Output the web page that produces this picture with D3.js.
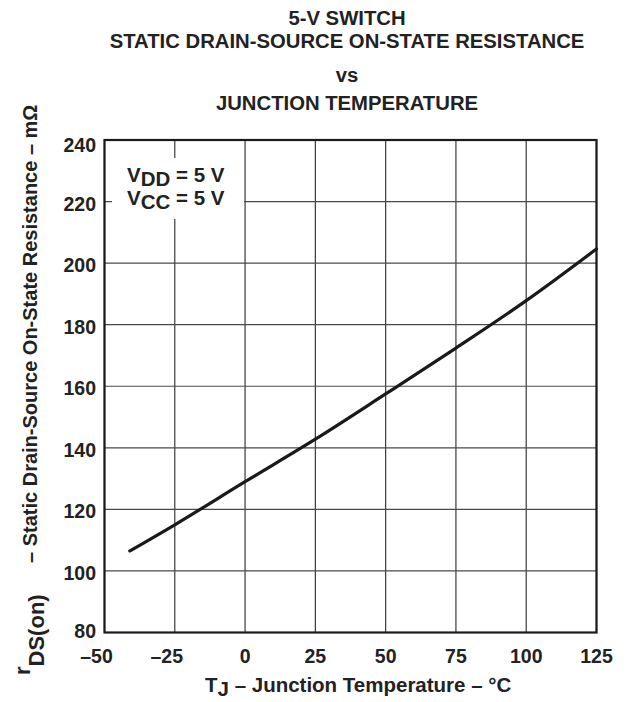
<!DOCTYPE html>
<html>
<head>
<meta charset="UTF-8">
<title>5-V Switch rDS(on) vs Junction Temperature</title>
<script src="https://cdn.jsdelivr.net/npm/d3@7"></script>
<style>
* { margin: 0; padding: 0; }
body { background: #fff; }
#chart { display: block; }
text { font-family: "Liberation Sans", Arial, sans-serif; font-weight: bold; fill: #222; }
</style>
</head>
<body>
<svg id="chart" width="632" height="702"></svg>
<script>
// values
const temps = [-41, -25, 0, 25, 50, 75, 100, 125];
const rdson = [106.5, 115, 129, 142.8, 157.5, 172.4, 187.8, 204.6];

const xTicks = [-50, -25, 0, 25, 50, 75, 100, 125];
const yTicks = [80, 100, 120, 140, 160, 180, 200, 220, 240];

const titleLines = ["5-V SWITCH", "STATIC DRAIN-SOURCE ON-STATE RESISTANCE", "vs", "JUNCTION TEMPERATURE"];

(function() {
    const svg = d3.select("#chart");
    const left = 104.5, right = 596.5, top = 140, bottom = 632.5;

    const x = d3.scaleLinear().domain([-50, 125]).range([left, right]);
    const y = d3.scaleLinear().domain([80, 240]).range([bottom, top]);

    // title
    const titleY = [25, 48, 82, 110];
    svg.selectAll(".title")
        .data(titleLines)
        .enter()
        .append("text")
        .attr("class", "title")
        .attr("x", 347)
        .attr("y", (d, i) => titleY[i])
        .attr("text-anchor", "middle")
        .style("font-size", "20.3px")
        .text(d => d);

    // grid
    const grid = svg.append("g");
    grid.selectAll(".vgrid")
        .data(xTicks)
        .enter()
        .append("line")
        .attr("x1", d => x(d)).attr("x2", d => x(d))
        .attr("y1", top).attr("y2", bottom)
        .style("stroke", "#3a3a3a")
        .style("stroke-width", "1.2px");
    grid.selectAll(".hgrid")
        .data(yTicks)
        .enter()
        .append("line")
        .attr("x1", left).attr("x2", right)
        .attr("y1", d => y(d)).attr("y2", d => y(d))
        .style("stroke", "#4a4a4a")
        .style("stroke-width", "1.2px");

    // legend box hides grid behind it
    svg.append("rect")
        .attr("x", 112).attr("y", 158)
        .attr("width", 132).attr("height", 61)
        .style("fill", "#fff");

    const legend = [["DD", 182], ["CC", 205]];
    legend.forEach(function(l) {
        const t = svg.append("text")
            .attr("x", 127).attr("y", l[1])
            .style("font-size", "20.5px");
        t.append("tspan").text("V");
        t.append("tspan").attr("dy", 3.5).text(l[0]);
        t.append("tspan").attr("dy", -3.5).text(" = 5 V");
    });

    // frame
    svg.append("rect")
        .attr("x", left).attr("y", top)
        .attr("width", right - left).attr("height", bottom - top)
        .style("fill", "none")
        .style("stroke", "#1a1a1a")
        .style("stroke-width", "2.2px");

    // axes labels
    svg.selectAll(".xlab")
        .data(xTicks)
        .enter()
        .append("text")
        .attr("x", d => x(d))
        .attr("dx", d => d < 0 ? -8 : 0)
        .attr("y", 663)
        .attr("text-anchor", "middle")
        .style("font-size", "19.5px")
        .text(d => d < 0 ? "\u2013" + Math.abs(d) : d);

    svg.selectAll(".ylab")
        .data(yTicks)
        .enter()
        .append("text")
        .attr("x", 96)
        .attr("y", d => y(d) + (d === 80 ? 5.5 : (d === 240 ? 11.5 : 9)))
        .attr("text-anchor", "end")
        .style("font-size", "19.5px")
        .text(d => d);

    // x axis title
    const xt = svg.append("text")
        .attr("x", 205).attr("y", 692)
        .style("font-size", "20.5px");
    xt.append("tspan").text("T");
    xt.append("tspan").attr("dy", 4).text("J");
    xt.append("tspan").attr("dy", -4).text(" \u2013 Junction Temperature \u2013 \u00b0C");

    // y axis title
    const yt = svg.append("text")
        .attr("transform", "translate(37,675) rotate(-90)")
        .style("font-size", "20px");
    yt.append("tspan").attr("dy", -7).style("font-size", "22px").text("r");
    yt.append("tspan").attr("dy", 14).style("font-size", "22px").text("DS(on)");
    yt.append("tspan").attr("x", 112).attr("dy", -7).text("\u2013 Static Drain-Source On-State Resistance \u2013 m\u03a9");

    // curve
    const pts = temps.map((t, i) => [t, rdson[i]]);
    const line = d3.line()
        .x(d => x(d[0]))
        .y(d => y(d[1]))
        .curve(d3.curveMonotoneX);
    svg.append("path")
        .datum(pts)
        .attr("d", line)
        .style("fill", "none")
        .style("stroke", "#1a1a1a")
        .style("stroke-width", "3.2px")
        .style("stroke-linecap", "round");
})();
</script>
</body>
</html>
